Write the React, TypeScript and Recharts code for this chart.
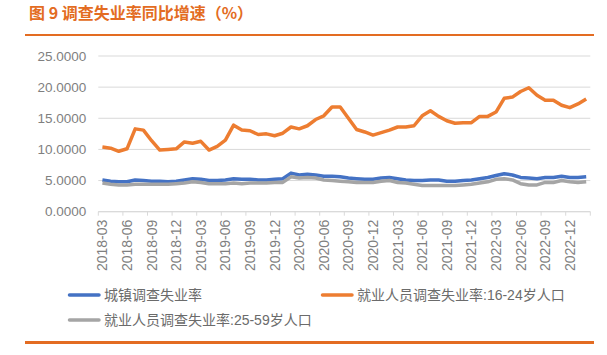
import React from "react";
import { LineChart, Line, XAxis, YAxis, CartesianGrid } from "recharts";

const months = [
  "2018-03","2018-04","2018-05","2018-06","2018-07","2018-08","2018-09","2018-10","2018-11","2018-12",
  "2019-01","2019-02","2019-03","2019-04","2019-05","2019-06","2019-07","2019-08","2019-09","2019-10","2019-11","2019-12",
  "2020-01","2020-02","2020-03","2020-04","2020-05","2020-06","2020-07","2020-08","2020-09","2020-10","2020-11","2020-12",
  "2021-01","2021-02","2021-03","2021-04","2021-05","2021-06","2021-07","2021-08","2021-09","2021-10","2021-11","2021-12",
  "2022-01","2022-02","2022-03","2022-04","2022-05","2022-06","2022-07","2022-08","2022-09","2022-10","2022-11","2022-12",
  "2023-01","2023-02",
];

const urban = [
  5.1, 4.9, 4.8, 4.8, 5.1, 5.0, 4.9, 4.9, 4.8, 4.9,
  5.1, 5.3, 5.2, 5.0, 5.0, 5.1, 5.3, 5.2, 5.2, 5.1, 5.1, 5.2,
  5.3, 6.2, 5.9, 6.0, 5.9, 5.7, 5.7, 5.6, 5.4, 5.3, 5.2, 5.2,
  5.4, 5.5, 5.3, 5.1, 5.0, 5.0, 5.1, 5.1, 4.9, 4.9, 5.0, 5.1,
  5.3, 5.5, 5.8, 6.1, 5.9, 5.5, 5.4, 5.3, 5.5, 5.5, 5.7, 5.5,
  5.5, 5.6,
];

const youth = [
  10.4, 10.2, 9.7, 10.1, 13.3, 13.1, 11.4, 9.9, 10.0, 10.1,
  11.2, 11.0, 11.3, 9.9, 10.5, 11.5, 13.9, 13.1, 13.0, 12.4, 12.5, 12.2,
  12.6, 13.6, 13.3, 13.8, 14.8, 15.4, 16.8, 16.8, 15.0, 13.2, 12.8, 12.3,
  12.7, 13.1, 13.6, 13.6, 13.8, 15.4, 16.2, 15.3, 14.6, 14.2, 14.3, 14.3,
  15.3, 15.3, 16.0, 18.2, 18.4, 19.3, 19.9, 18.7, 17.9, 17.9, 17.1, 16.7,
  17.3, 18.1,
];

const prime = [
  4.6, 4.4, 4.3, 4.3, 4.4, 4.4, 4.4, 4.4, 4.4, 4.5,
  4.6, 4.8, 4.7, 4.5, 4.5, 4.5, 4.6, 4.5, 4.6, 4.6, 4.6, 4.7,
  4.7, 5.6, 5.4, 5.5, 5.4, 5.1, 5.0, 4.9, 4.8, 4.7, 4.7, 4.7,
  4.9, 5.0, 4.7, 4.6, 4.4, 4.2, 4.2, 4.2, 4.2, 4.2, 4.3, 4.4,
  4.6, 4.8, 5.2, 5.3, 5.1, 4.5, 4.3, 4.3, 4.7, 4.7, 5.0, 4.8,
  4.7, 4.8,
];

const tickLabels = [
  "2018-03","2018-06","2018-09","2018-12","2019-03","2019-06","2019-09","2019-12",
  "2020-03","2020-06","2020-09","2020-12","2021-03","2021-06","2021-09","2021-12",
  "2022-03","2022-06","2022-09","2022-12",
];

const yTicks = [0, 5, 10, 15, 20, 25];

const seriesNames = [
  "城镇调查失业率",
  "就业人员调查失业率:16-24岁人口",
  "就业人员调查失业率:25-59岁人口",
];

const colors = ["#4472C4", "#ED7D31", "#A5A5A5"];

const data = months.map((m, i) => ({
  x: i + 0.5,
  month: m,
  urban: urban[i],
  youth: youth[i],
  prime: prime[i],
}));

const xTicks = tickLabels.map((_, i) => i * 3).concat([months.length]);

const W = 607;
const H = 355;
const PLOT_L = 98.3;
const PLOT_R = 590.3;
const PLOT_T = 56;
const PLOT_B = 211.7;
const X_AXIS_H = 60;
const HALF_BAND = (PLOT_R - PLOT_L) / months.length / 2;

const FONT = "'Liberation Sans', 'Noto Sans CJK SC', sans-serif";
const ORANGE_RULE = "#E36C22";

function XTick(props: any) {
  const { x, y, payload } = props;
  const label = tickLabels[payload.value / 3];
  if (!label || payload.value % 3 !== 0) return null;
  const cx = x + HALF_BAND;
  const cy = y + 2;
  return (
    <text
      x={cx}
      y={cy}
      transform={`rotate(-90, ${cx}, ${cy})`}
      textAnchor="end"
      dominantBaseline="central"
      fontSize={14}
      fill="#7f7f7f"
      fontFamily={FONT}
    >
      {label}
    </text>
  );
}

const legendItems = [
  { name: seriesNames[0], color: colors[0], x: 68, y: 295 },
  { name: seriesNames[1], color: colors[1], x: 321, y: 295 },
  { name: seriesNames[2], color: colors[2], x: 68, y: 320 },
];

export default function App() {
  return (
    <div style={{ position: "relative", width: W, height: H, background: "#fff", overflow: "hidden", fontFamily: FONT }}>
      <style>{`body{margin:0}`}</style>
      <div
        style={{
          position: "absolute",
          left: 29,
          top: 3,
          fontSize: 16,
          lineHeight: "18px",
          fontWeight: 700,
          color: ORANGE_RULE,
          fontFamily: "'Noto Sans CJK SC', sans-serif",
          whiteSpace: "nowrap",
        }}
      >
        图 9 调查失业率同比增速（%）
      </div>
      <div style={{ position: "absolute", left: 25, top: 33.8, width: 569, height: 2.5, background: ORANGE_RULE }} />
      <div style={{ position: "absolute", left: 25, top: 341, width: 569, height: 2.5, background: ORANGE_RULE }} />
      <div style={{ position: "absolute", left: 0, top: 0 }}>
        <LineChart
          width={W}
          height={H}
          data={data}
          margin={{ top: PLOT_T, right: W - PLOT_R, bottom: H - PLOT_B - X_AXIS_H, left: 0 }}
        >
          <CartesianGrid horizontal vertical={false} stroke="#d9d9d9" strokeWidth={1} />
          <XAxis
            dataKey="x"
            type="number"
            domain={[0, months.length]}
            ticks={xTicks}
            interval={0}
            height={X_AXIS_H}
            axisLine={{ stroke: "#d9d9d9" }}
            tickLine={{ stroke: "#d9d9d9" }}
            tickSize={4}
            tick={<XTick />}
            allowDataOverflow
          />
          <YAxis
            type="number"
            domain={[0, 25]}
            ticks={yTicks}
            width={PLOT_L}
            axisLine={false}
            tickLine={false}
            tickSize={6}
            tickMargin={6}
            tickFormatter={(v: number) => v.toFixed(4)}
            tick={{ fill: "#7f7f7f", fontSize: 13.5, fontFamily: FONT }}
          />
          <Line type="linear" dataKey="urban" name={seriesNames[0]} stroke={colors[0]} strokeWidth={3.5} dot={false} isAnimationActive={false} strokeLinejoin="round" />
          <Line type="linear" dataKey="youth" name={seriesNames[1]} stroke={colors[1]} strokeWidth={3.5} dot={false} isAnimationActive={false} strokeLinejoin="round" />
          <Line type="linear" dataKey="prime" name={seriesNames[2]} stroke={colors[2]} strokeWidth={3.5} dot={false} isAnimationActive={false} strokeLinejoin="round" />
        </LineChart>
      </div>
      <svg width={W} height={H} style={{ position: "absolute", left: 0, top: 0, pointerEvents: "none" }}>
        {legendItems.map((it) => (
          <g key={it.name}>
            <line x1={it.x + 1.5} x2={it.x + 31} y1={it.y} y2={it.y} stroke={it.color} strokeWidth={3.5} strokeLinecap="round" />
            <text x={it.x + 36} y={it.y} dominantBaseline="central" fontSize={14} fill="#6b6b6b" fontFamily={FONT}>
              {it.name}
            </text>
          </g>
        ))}
      </svg>
    </div>
  );
}
